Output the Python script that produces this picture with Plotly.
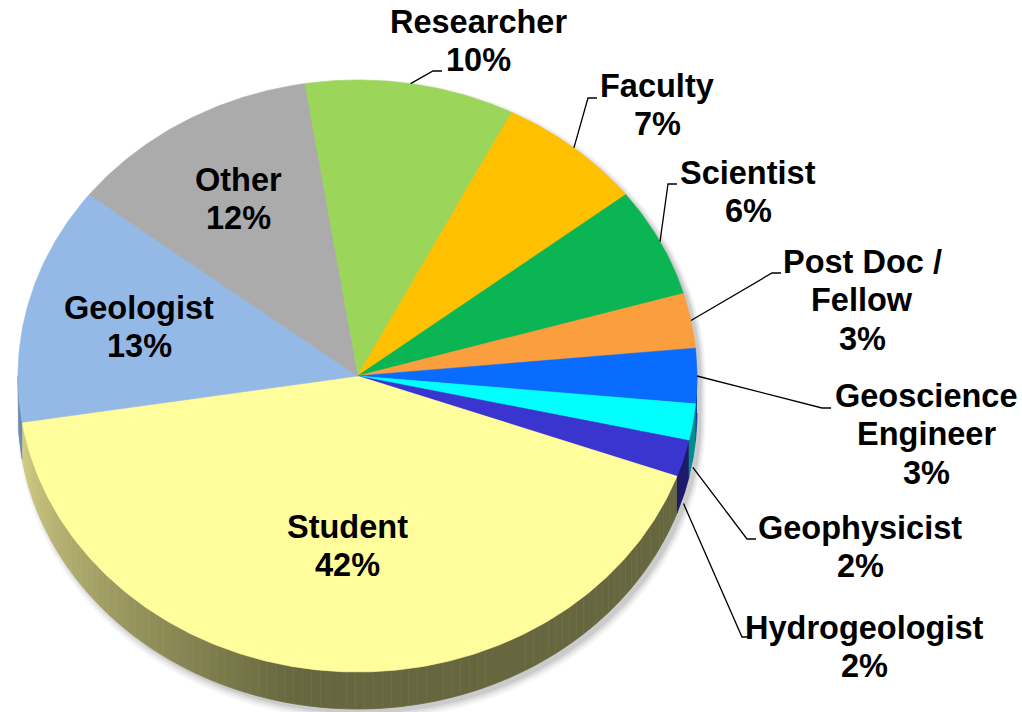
import numpy as np
import plotly.graph_objects as go

# ---------------- data ----------------
categories = ["Researcher", "Faculty", "Scientist", "Post Doc / Fellow",
              "Geoscience Engineer", "Geophysicist", "Hydrogeologist",
              "Student", "Geologist", "Other"]
values = [10, 7, 6, 3, 3, 2, 2, 42, 13, 12]

# ---------------- style ----------------
colors = ["#9BD65A", "#FFC000", "#0BB553", "#FB9E3E", "#0A6BFF",
          "#00FFFF", "#3A35CF", "#FFFD9C", "#95B9E6", "#ABABAB"]
side_colors = ["#5E8A2E", "#A07800", "#067035", "#A0601E", "#0842A0",
               "#008C8C", "#1C1A6A", None, "#6C8BB4", "#6E6E6E"]
display_lines = {"Post Doc / Fellow": ["Post Doc /", "Fellow"],
                 "Geoscience Engineer": ["Geoscience", "Engineer"]}
# label centres (pixels) and leader-line elbows / extra vertical offset
label_pos = [(478, 41), (657, 105), (748, 192), (862, 300), (926, 434),
             (860, 547), (864, 647), (347, 546), (139, 327), (238, 199)]
leader_elbow = [(433, 71), (588, 98), (668, 184), (772, 273), (822, 408),
                (747, 539), (742, 637), None, None, None]
leader_end_dx = 9
leader_drop = [0, 0, 0, 0, 0, 45, 45, 0, 0, 0]
line_gap = 38.5

W, H = 1022, 712
cx, cy, a, b, depth = 357.5, 376.0, 339.5, 296.0, 37.0
start_deg = -9.0   # clockwise from 12 o'clock

FONT = dict(family="Liberation Sans, Arial, sans-serif", size=32.5, color="black")


def ex(t):
    return cx + a * np.sin(np.radians(t))


def ey(t):
    return cy - b * np.cos(np.radians(t))


fig = go.Figure()

# soft drop shadow
for g, alpha in [(5, 0.035), (3.5, 0.045), (2, 0.06), (0.5, 0.08)]:
    t1 = np.linspace(-90, 90, 181)
    t2 = np.linspace(90, 270, 181)
    xs = np.concatenate([cx + 4 + (a + g) * np.sin(np.radians(t1)),
                         cx + 4 + (a + g) * np.sin(np.radians(t2))])
    ys = np.concatenate([cy + 4 - (b + g) * np.cos(np.radians(t1)),
                         cy + 4 - (b + g) * np.cos(np.radians(t2)) + depth + g * 0.5])
    fig.add_trace(go.Scatter(x=xs, y=ys, mode="lines", fill="toself",
                             fillcolor=f"rgba(0,0,0,{alpha})", line=dict(width=0),
                             hoverinfo="skip", showlegend=False))

total = float(sum(values))
bounds = []
acc = start_deg
for v in values:
    s = acc
    e = acc + 360.0 * v / total
    bounds.append((s, e))
    acc = e


def student_side_color(t):
    dark = np.array([103, 103, 63])
    light = np.array([212, 208, 132])
    f = np.clip((t - 190) / (262 - 190), 0, 1)
    c = dark + (light - dark) * f
    return "rgb(%d,%d,%d)" % tuple(c.astype(int))


# sides (visible between 90 and 270 degrees)
for i, (s, e) in enumerate(bounds):
    lo, hi = max(s, 90.0), min(e, 270.0)
    if lo >= hi:
        continue
    if side_colors[i] is None:
        edges = np.arange(lo, hi, 1.5).tolist() + [hi]
        segs = [(edges[k], edges[k + 1], student_side_color(0.5 * (edges[k] + edges[k + 1])))
                for k in range(len(edges) - 1)]
    else:
        segs = [(lo, hi, side_colors[i])]
    for (p, q, col) in segs:
        tt = np.linspace(p, q, max(3, int((q - p) * 2)))
        xs = np.concatenate([ex(tt), ex(tt[::-1])])
        ys = np.concatenate([ey(tt), ey(tt[::-1]) + depth])
        fig.add_trace(go.Scatter(x=xs, y=ys, mode="lines", fill="toself",
                                 fillcolor=col, line=dict(width=0.8, color=col),
                                 hoverinfo="skip", showlegend=False))

# top faces
for i, (s, e) in enumerate(bounds):
    tt = np.linspace(s, e, max(4, int((e - s) * 2)))
    xs = np.concatenate([[cx], ex(tt), [cx]])
    ys = np.concatenate([[cy], ey(tt), [cy]])
    fig.add_trace(go.Scatter(x=xs, y=ys, mode="lines", fill="toself",
                             fillcolor=colors[i], line=dict(width=0.6, color=colors[i]),
                             name=categories[i], hoverinfo="name", showlegend=False))

# leader lines
for i, (s, e) in enumerate(bounds):
    if leader_elbow[i] is None:
        continue
    m = 0.5 * (s + e)
    x0, y0 = ex(m), ey(m) + leader_drop[i]
    x1, y1 = leader_elbow[i]
    fig.add_trace(go.Scatter(x=[x0, x1, x1 + leader_end_dx], y=[y0, y1, y1],
                             mode="lines", line=dict(color="black", width=1.3),
                             hoverinfo="skip", showlegend=False))

# labels, one annotation per text line
for i, name in enumerate(categories):
    lines = display_lines.get(name, [name]) + [f"{values[i]}%"]
    n = len(lines)
    for k, ln in enumerate(lines):
        fig.add_annotation(x=label_pos[i][0],
                           y=label_pos[i][1] + (k - (n - 1) / 2.0) * line_gap,
                           text="<b>" + ln + "</b>", showarrow=False, font=FONT,
                           xanchor="center", yanchor="middle")

fig.update_layout(width=W, height=H, margin=dict(l=0, r=0, t=0, b=0),
                  paper_bgcolor="white", plot_bgcolor="white",
                  xaxis=dict(range=[0, W], visible=False, fixedrange=True),
                  yaxis=dict(range=[H, 0], visible=False, fixedrange=True))

fig.write_html("out.html", config={"displayModeBar": False},
               post_script="document.body.style.margin='0';document.body.style.overflow='hidden';")
